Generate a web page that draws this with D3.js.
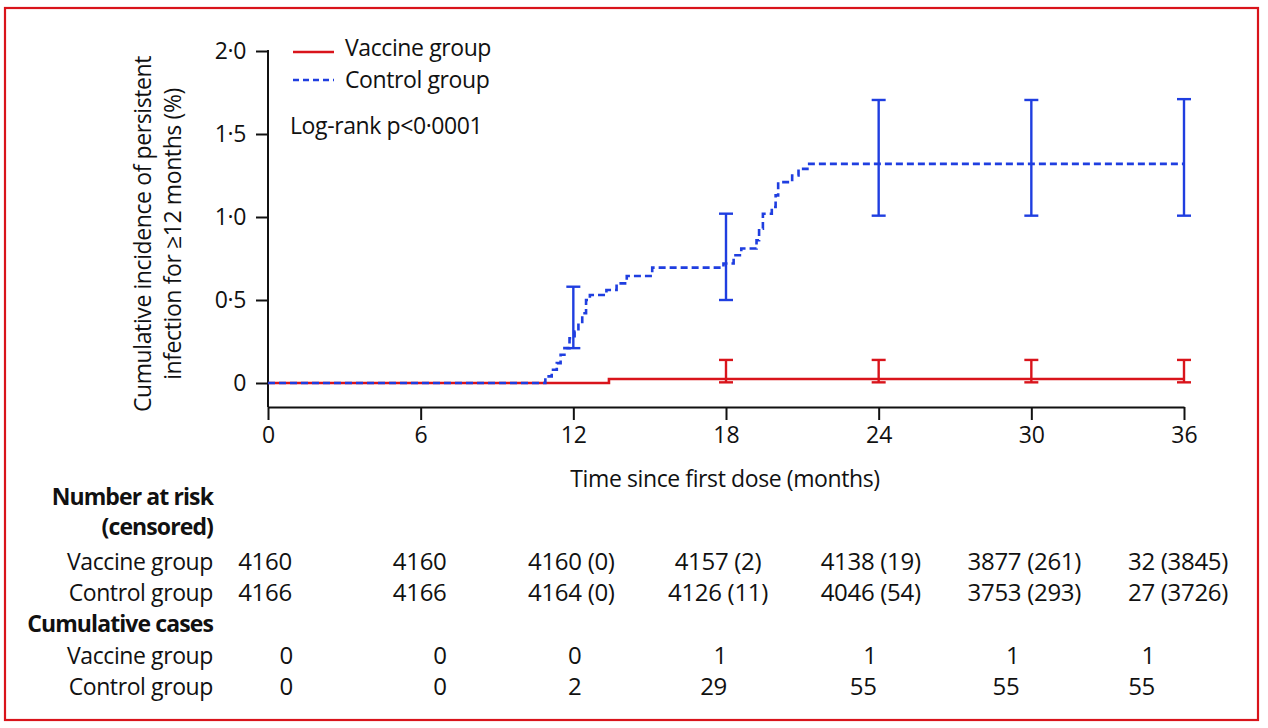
<!DOCTYPE html>
<html>
<head>
<meta charset="utf-8">
<script src="https://cdn.jsdelivr.net/npm/d3@7"></script>
<style>
  html, body { margin: 0; padding: 0; background: #fff; }
  svg text { font-family: "Open Sans", "Noto Sans", sans-serif; fill: #111; }
</style>
</head>
<body>
<svg id="chart" width="1268" height="728"></svg>
<script>
// ---------------- DATA ----------------
const xTicks = [0, 6, 12, 18, 24, 30, 36];
const yTicks = [0, 0.5, 1.0, 1.5, 2.0];

// Kaplan–Meier style cumulative incidence (%) — step points [month, value]
const controlTimes  = [0, 10.9, 11.15, 11.35, 11.5, 11.65, 11.85, 12.05, 12.2, 12.35, 12.5, 12.65, 13.3, 13.7, 14.1, 15.1, 17.9, 18.3, 18.6, 19.2, 19.3, 19.45, 19.8, 19.95, 20.05, 20.6, 20.85, 21.2, 36];
const controlValues = [0, 0.04, 0.08, 0.12, 0.17, 0.21, 0.27, 0.31, 0.36, 0.42, 0.50, 0.53, 0.56, 0.60, 0.645, 0.695, 0.72, 0.77, 0.81, 0.86, 0.93, 1.02, 1.06, 1.13, 1.21, 1.25, 1.29, 1.32, 1.32];
const vaccineTimes  = [0, 13.4, 36];
const vaccineValues = [0, 0.024, 0.024];

// 95% CI error bars
const controlCITimes = [12, 18, 24, 30, 36];
const controlCILow   = [0.21, 0.50, 1.008, 1.008, 1.008];
const controlCIHigh  = [0.58, 1.02, 1.705, 1.705, 1.71];
const vaccineCITimes = [18, 24, 30, 36];
const vaccineCILow   = [0.004, 0.004, 0.004, 0.004];
const vaccineCIHigh  = [0.139, 0.139, 0.139, 0.139];

// Risk table
const riskTimes = [0, 6, 12, 18, 24, 30, 36];
const vaccineAtRisk = ["4160", "4160", "4160 (0)", "4157 (2)", "4138 (19)", "3877 (261)", "32 (3845)"];
const controlAtRisk = ["4166", "4166", "4164 (0)", "4126 (11)", "4046 (54)", "3753 (293)", "27 (3726)"];
const vaccineCases = [0, 0, 0, 1, 1, 1, 1];
const controlCases = [0, 0, 2, 29, 55, 55, 55];

const seriesNames = ["Vaccine group", "Control group"];
const pValueText = "Log-rank p<0·0001";
const xTitle = "Time since first dose (months)";
const yTitleLines = ["Cumulative incidence of persistent", "infection for ≥12 months (%)"];

// ---------------- LAYOUT / STYLE ----------------
const RED = "#d9141b", BLUE = "#1f3ee0";
const FS = 23;
const svg = d3.select("#chart");

const x = d3.scaleLinear().domain([0, 36]).range([268, 1184]);
const y = d3.scaleLinear().domain([0, 2]).range([383, 51]);
const axisY = y(0) + 24;

// frame
svg.append("rect").attr("x", 5).attr("y", 8).attr("width", 1253).attr("height", 712)
  .attr("fill", "none").attr("stroke", RED).attr("stroke-width", 2.2);

// axes
const fmt = d => d === 0 ? "0" : d.toFixed(1).replace(".", "·");
const gy = svg.append("g").attr("transform", `translate(${x(0)},0)`)
  .call(d3.axisLeft(y).tickValues(yTicks).tickSize(12).tickPadding(10).tickFormat(fmt));
gy.select(".domain").remove();
gy.selectAll(".tick line").attr("stroke", "#111").attr("stroke-width", 2);
gy.selectAll(".tick text").attr("font-size", FS).attr("letter-spacing", "-0.4px")
  .attr("font-family", "Open Sans").attr("fill", "#111");
svg.append("line").attr("x1", x(0)).attr("x2", x(0)).attr("y1", y(2) - 1).attr("y2", axisY)
  .attr("stroke", "#111").attr("stroke-width", 2);

const gx = svg.append("g").attr("transform", `translate(0,${axisY})`)
  .call(d3.axisBottom(x).tickValues(xTicks).tickSize(13).tickSizeOuter(0).tickPadding(7).tickFormat(d3.format("d")));
gx.select(".domain").attr("stroke", "#111").attr("stroke-width", 2);
gx.selectAll(".tick line").attr("stroke", "#111").attr("stroke-width", 2);
gx.selectAll(".tick text").attr("font-size", FS).attr("font-family", "Open Sans").attr("fill", "#111");

// axis titles
svg.append("text").attr("x", 725).attr("y", 487).attr("text-anchor", "middle")
  .attr("font-size", FS).attr("letter-spacing", "-0.4px").text(xTitle);
yTitleLines.forEach((t, i) => {
  svg.append("text").attr("transform", `translate(${151 + i * 30},234) rotate(-90)`)
    .attr("text-anchor", "middle").attr("font-size", FS).attr("letter-spacing", "-0.4px").text(t);
});

// curves
const line = d3.line().x(d => x(d[0])).y(d => y(d[1])).curve(d3.curveStepAfter);
const controlData = controlTimes.map((t, i) => [t, controlValues[i]]);
const vaccineData = vaccineTimes.map((t, i) => [t, vaccineValues[i]]);

svg.append("path").datum(vaccineData).attr("d", line).attr("fill", "none")
  .attr("stroke", RED).attr("stroke-width", 2.6);
svg.append("path").datum(controlData).attr("d", line).attr("fill", "none")
  .attr("stroke", BLUE).attr("stroke-width", 2.6).attr("stroke-dasharray", "7,4");

// error bars
function errorBars(times, lo, hi, color) {
  const g = svg.append("g").attr("stroke", color).attr("stroke-width", 2.4);
  times.forEach((t, i) => {
    g.append("line").attr("x1", x(t)).attr("x2", x(t)).attr("y1", y(lo[i])).attr("y2", y(hi[i]));
    [lo[i], hi[i]].forEach(v => g.append("line").attr("x1", x(t) - 7).attr("x2", x(t) + 7)
      .attr("y1", y(v)).attr("y2", y(v)));
  });
}
errorBars(controlCITimes, controlCILow, controlCIHigh, BLUE);
errorBars(vaccineCITimes, vaccineCILow, vaccineCIHigh, RED);

// legend
const leg = [{ c: RED, dash: null, yy: 52, ty: 56 }, { c: BLUE, dash: "6,4", yy: 80, ty: 88 }];
leg.forEach((l, i) => {
  svg.append("line").attr("x1", 293).attr("x2", 334).attr("y1", l.yy).attr("y2", l.yy)
    .attr("stroke", l.c).attr("stroke-width", 2.4).attr("stroke-dasharray", l.dash);
  svg.append("text").attr("x", 345).attr("y", l.ty).attr("font-size", FS)
    .attr("letter-spacing", "-0.4px").text(seriesNames[i]);
});
svg.append("text").attr("x", 290).attr("y", 134).attr("font-size", FS)
  .attr("letter-spacing", "-0.4px").text(pValueText);

// risk table
const labelX = 213;
const rows = [
  { label: "Number at risk", bold: true, y: 505 },
  { label: "(censored)", bold: true, y: 535 },
  { label: seriesNames[0], y: 570, vals: vaccineAtRisk, type: "risk" },
  { label: seriesNames[1], y: 601, vals: controlAtRisk, type: "risk" },
  { label: "Cumulative cases", bold: true, y: 632 },
  { label: seriesNames[0], y: 664, vals: vaccineCases, type: "cases" },
  { label: seriesNames[1], y: 695, vals: controlCases, type: "cases" }
];
const riskNudge = [-3, -1, -2, -8, -8, -7, -6];
const caseNudge = [25, 26, 8, 1, -2, -12, -29];
rows.forEach(r => {
  svg.append("text").attr("x", labelX).attr("y", r.y).attr("text-anchor", "end")
    .attr("font-size", FS).attr("font-weight", r.bold ? 700 : 400)
    .attr("letter-spacing", r.bold ? "-0.9px" : "-0.4px").text(r.label);
  if (r.vals) {
    r.vals.forEach((v, i) => {
      const isRisk = r.type === "risk";
      svg.append("text")
        .attr("x", x(riskTimes[i]) + (isRisk ? riskNudge[i] : caseNudge[i]))
        .attr("y", r.y).attr("text-anchor", isRisk ? "middle" : "end")
        .attr("font-size", 24).attr("letter-spacing", "-0.3px").text(v);
    });
  }
});
</script>
</body>
</html>
